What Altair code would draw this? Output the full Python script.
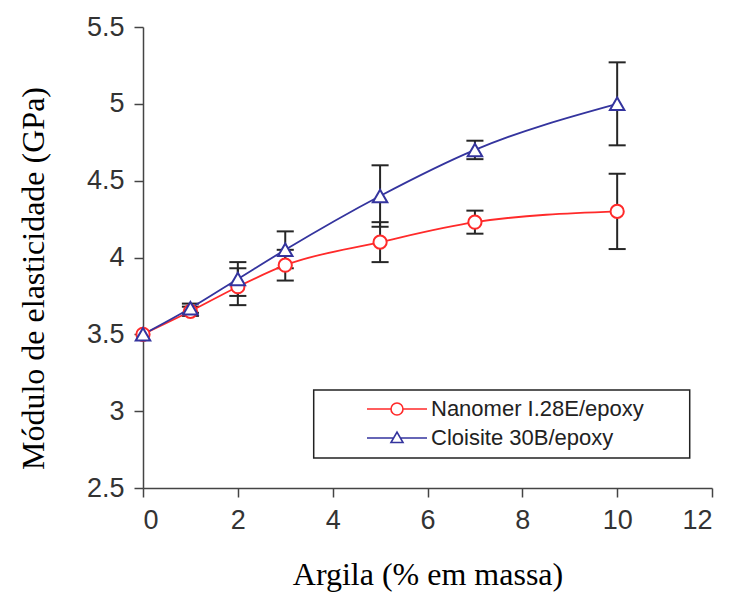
import altair as alt
import pandas as pd

# ---- data ----
x_vals = [0, 1, 2, 3, 5, 7, 10]
nanomer = [3.50, 3.65, 3.81, 3.95, 4.10, 4.23, 4.30]
nanomer_err = [0.0, 0.03, 0.12, 0.10, 0.13, 0.075, 0.245]
cloisite = [3.50, 3.67, 3.86, 4.05, 4.40, 4.70, 5.00]
cloisite_err = [0.0, 0.03, 0.11, 0.12, 0.20, 0.06, 0.27]
series_names = ["Nanomer I.28E/epoxy", "Cloisite 30B/epoxy"]
series_colors = ["#ff2a2a", "#34349e"]
x_ticks = [0, 2, 4, 6, 8, 10, 12]
y_ticks = [2.5, 3, 3.5, 4, 4.5, 5, 5.5]
# legend frame extent in data units (x0, x1, y0, y1)
legend_frame = [3.6, 11.53, 2.695, 3.138]

rows = []
for name, vals, errs in [(series_names[0], nanomer, nanomer_err),
                         (series_names[1], cloisite, cloisite_err)]:
    for xv, v, e in zip(x_vals, vals, errs):
        rows.append({"x": xv, "y": v, "err": e, "serie": name})
df = pd.DataFrame(rows)
frame_df = pd.DataFrame([{"x0": legend_frame[0], "x1": legend_frame[1],
                          "y0": legend_frame[2], "y1": legend_frame[3]}])

xs = alt.Scale(domain=[0, 12], nice=False)
ys = alt.Scale(domain=[2.5, 5.5], nice=False, zero=False)
cs = alt.Scale(domain=series_names, range=series_colors)

x_axis = alt.Axis(values=x_ticks, format="d", title="Argila (% em massa)",
                  titleY=96, titleBaseline="alphabetic")
y_axis = alt.Axis(values=y_ticks, format="~g", title="Módulo de elasticidade (GPa)",
                  titleX=-100, titleY=251, titleBaseline="alphabetic")


def X(field):
    return alt.X(field, type="quantitative", scale=xs, axis=x_axis)


def Y(field):
    return alt.Y(field, type="quantitative", scale=ys, axis=y_axis)


base = alt.Chart(df)

eb = base.transform_filter("datum.err > 0").transform_calculate(
    lo="datum.y - datum.err", hi="datum.y + datum.err",
    xl="datum.x - 0.18", xr="datum.x + 0.18")
bar_color = "#262626"
vert = eb.mark_rule(color=bar_color, strokeWidth=2).encode(x=X("x"), y=Y("lo"), y2="hi:Q")
cap_lo = eb.mark_rule(color=bar_color, strokeWidth=2).encode(x=X("xl"), x2="xr:Q", y=Y("lo"))
cap_hi = eb.mark_rule(color=bar_color, strokeWidth=2).encode(x=X("xl"), x2="xr:Q", y=Y("hi"))

lines = base.mark_line(interpolate="monotone", strokeWidth=1.8).encode(
    x=X("x"), y=Y("y"), color=alt.Color("serie:N", scale=cs, legend=None),
    detail="serie:N")

pts_c = base.transform_filter(alt.datum.serie == series_names[0]).mark_point(
    shape="circle", size=175, filled=False, fill="white", opacity=1, strokeWidth=2
).encode(x=X("x"), y=Y("y"), color=alt.Color("serie:N", scale=cs, legend=None))
pts_t = base.transform_filter(alt.datum.serie == series_names[1]).mark_point(
    shape="triangle-up", size=210, filled=False, fill="white", opacity=1, strokeWidth=2
).encode(x=X("x"), y=Y("y"), color=alt.Color("serie:N", scale=cs, legend=None))

frame = alt.Chart(frame_df).mark_rect(fill="white", stroke="#222222", strokeWidth=1.5).encode(
    x=X("x0"), x2="x1:Q", y=Y("y0"), y2="y1:Q")

# legend-only layer (its points are clipped away outside the plot)
circle_path = "M-1,0L1.4,0M2.6,0L5,0M1.4,0A0.6,0.6,0,1,0,2.6,0A0.6,0.6,0,1,0,1.4,0Z"
tri_path = "M-1,0L1.66,0M2.34,0L5,0M1.4,0.45L2.6,0.45L2,-0.6Z"
legend = alt.Legend(
    title=None, orient="none", legendX=171, legendY=363, padding=8,
    symbolSize=400,
    symbolStrokeWidth=1.6, symbolOffset=44, labelOffset=43,
    symbolFillColor="white", symbolOpacity=1, labelLimit=500,
    labelFont="Liberation Sans", labelFontSize=22, labelColor="#222222",
    rowPadding=7)
cs_leg = alt.Scale(domain=series_names, range=series_colors)
leg = base.mark_point(size=400, filled=False, fill="white", opacity=1, clip=True,
                      strokeWidth=1.6).encode(
    x=alt.value(-200), y=alt.value(-200),
    color=alt.Color("serie:N", scale=cs_leg, legend=legend),
    shape=alt.Shape("serie:N", scale=alt.Scale(domain=series_names,
                                               range=[circle_path, tri_path]),
                    legend=legend))

chart = alt.layer(frame, vert, cap_lo, cap_hi, lines, pts_c, pts_t, leg).resolve_scale(
    color="independent", shape="independent"
).properties(
    width=569, height=461,
    autosize=alt.AutoSizeParams(type="none"),
    padding={"left": 143, "top": 27, "right": 22, "bottom": 104},
).configure_view(stroke=None).configure_axis(
    grid=False, domainColor="#444444", domainWidth=1.5, tickColor="#444444",
    tickWidth=1.5, tickSize=9, labelFont="Liberation Sans", labelFontSize=27,
    labelColor="#333333", labelPadding=10, titleFont="Liberation Serif",
    titleFontSize=32, titleFontWeight="normal", titleColor="#000000",
)

chart.save("out.html", embed_options={"renderer": "svg", "actions": False})
